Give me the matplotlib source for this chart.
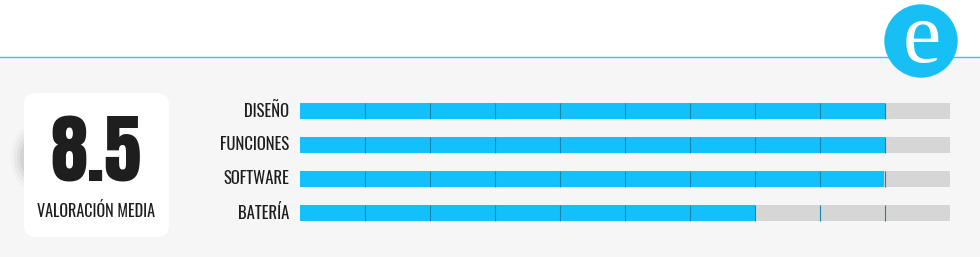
import matplotlib
matplotlib.use("Agg")
import matplotlib.pyplot as plt
from matplotlib.patches import Rectangle, FancyBboxPatch, Circle, Ellipse

# scores out of 10
categories = ["DISEÑO", "FUNCIONES", "SOFTWARE", "BATERÍA"]
scores = [9.0, 9.0, 8.98, 7.0]
max_score = 10
average = 8.5
average_label = "VALORACIÓN MEDIA"

BLUE = "#12c1fc"
TRACK = "#d6d6d6"
DIV = "#1689a8"
BG = "#f6f6f6"
NARROW = ["Oswald", "DejaVu Sans"]
SERIF = ["Tinos", "Liberation Serif", "Times New Roman", "PT Serif", "Noto Serif", "DejaVu Serif"]

W, H = 980, 257
fig = plt.figure(figsize=(W / 100, H / 100), dpi=100)

# background layer in pixel coordinates
bg = fig.add_axes([0, 0, 1, 1])
bg.set_xlim(0, W)
bg.set_ylim(H, 0)
bg.axis("off")
bg.add_patch(Rectangle((0, 0), W, 57, color="white", zorder=0))
bg.add_patch(Rectangle((0, 57), W, H - 57, color=BG, zorder=0))
bg.plot([0, W], [57, 57], color="#3ec3ea", lw=1.0, zorder=1)
bg.add_patch(Circle((921, 41), 36, color="#18bff5", zorder=2))
bg.text(922, 41, "e", color="white", fontsize=62, family=SERIF,
        ha="center", va="center", zorder=3)

# soft shadow left of the card
for i, a in enumerate([0.02, 0.03, 0.04, 0.05]):
    bg.add_patch(Ellipse((28, 158), 34 - i * 6, 60 - i * 9, color="black",
                         alpha=a, lw=0, zorder=1))
bg.add_patch(FancyBboxPatch((24, 93), 145, 144, boxstyle="round,pad=0,rounding_size=12",
                            fc="white", ec="none", zorder=2))
bg.text(96, 153, "%.1f" % average, fontsize=54, family=["Anton", "Oswald", "DejaVu Sans"],
        color="#1e1e1e", ha="center", va="center", zorder=3)
bg.text(96, 211, average_label, fontsize=11.6, family=NARROW, color="#1e1e1e",
        ha="center", va="center", zorder=3)

# bars
ax = fig.add_axes([300 / W, 1 - 230 / H, 650 / W, 136 / H])
ax.set_xlim(0, max_score)
ax.set_ylim(len(categories) - 0.5, -0.5)
ax.axis("off")
ypos = list(range(len(categories)))
ax.barh(ypos, [max_score] * len(categories), height=0.47, color=TRACK, left=0)
ax.barh(ypos, scores, height=0.47, color=BLUE, left=0)
for y in ypos:
    ax.vlines(range(1, max_score), y - 0.235, y + 0.235, color=DIV, lw=0.8)
for y, name in zip(ypos, categories):
    ax.text(-0.17, y, name, fontsize=12, family=NARROW, color="#1e1e1e",
            ha="right", va="center")

fig.savefig("out.png", dpi=100)
